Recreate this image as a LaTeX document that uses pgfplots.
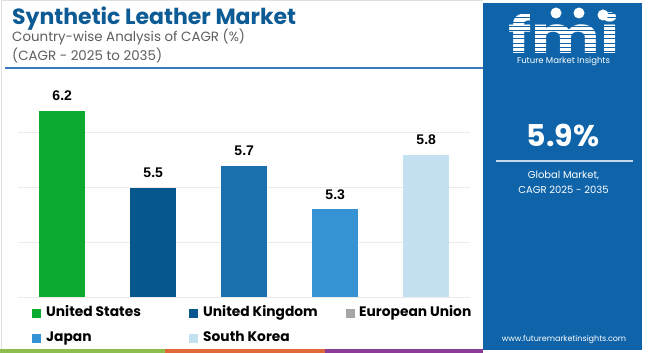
\documentclass[border=0pt]{standalone}
\usepackage{pgfplots}
\pgfplotsset{compat=1.18}
\usepackage{fontspec}
\setmainfont{Poppins}
\newfontfamily\arialf{Liberation Sans}
\definecolor{titleblue}{HTML}{0D5B95}
\definecolor{subgray}{HTML}{5E5E5E}
\definecolor{panel}{HTML}{0F64A9}
\definecolor{cUS}{HTML}{0CAA2E}
\definecolor{cUK}{HTML}{07578F}
\definecolor{cEU}{HTML}{1A70AC}
\definecolor{cJP}{HTML}{3593D3}
\definecolor{cSK}{HTML}{C3E1F1}
\definecolor{cGray}{HTML}{A6A6A6}
\definecolor{gridc}{HTML}{EBEBEB}
\definecolor{lineblue}{HTML}{3A7BBF}
\definecolor{sgreen}{HTML}{8DBF4E}
\definecolor{sorange}{HTML}{E0683A}
\definecolor{spurple}{HTML}{8A3D96}
\begin{document}
\begin{tikzpicture}[x=1pt,y=1pt]
\path[use as bounding box, fill=white] (0,0) rectangle (650,353);
\draw[gray!25, line width=0.8pt] (1,4) -- (1,352.5) -- (483,352.5);
% title
\node[anchor=base west, inner sep=0pt, text=titleblue, font=\bfseries\fontsize{22}{22}\selectfont] at (12,328) {Synthetic Leather Market};
\node[anchor=base west, inner sep=0pt, text=subgray, font=\fontsize{13.4}{13.4}\selectfont] at (12,311) {Country-wise Analysis of CAGR (\%)};
\node[anchor=base west, inner sep=0pt, text=subgray, font=\fontsize{13.4}{13.4}\selectfont] at (12,292) {(CAGR - 2025 to 2035)};
\draw[lineblue, line width=1.5pt] (5,285) -- (483,285);
% axis
\begin{axis}[
  at={(20,51)}, anchor=south west,
  scale only axis, width=452pt, height=219.2pt,
  xmin=-0.4835, xmax=4.4835, ymin=4.5, ymax=6.5,
  ybar, bar width=46pt, bar shift=0pt,
  axis line style={draw=none},
  ytick={4.5,5,5.5,6}, yticklabels={}, xtick=\empty,
  ymajorgrids, grid style={gridc, line width=0.8pt},
  major tick length=0pt,
  /pgf/number format/assume math mode=true,
  nodes near coords,
  every node near coord/.append style={font=\arialf\bfseries\fontsize{14}{14}\selectfont, anchor=base, yshift=10pt, inner sep=0pt, text=black},
]
\addplot[fill=cUS, draw=none, bar shift=0pt] coordinates {(0,6.2)};
\addplot[fill=cUK, draw=none, bar shift=0pt] coordinates {(1,5.5)};
\addplot[fill=cEU, draw=none, bar shift=0pt] coordinates {(2,5.7)};
\addplot[fill=cJP, draw=none, bar shift=0pt] coordinates {(3,5.3)};
\addplot[fill=cSK, draw=none, bar shift=0pt] coordinates {(4,5.8)};
\end{axis}
% legend
\tikzset{lgt/.style={anchor=base west, inner sep=0pt, font=\bfseries\fontsize{13.8}{13.8}\selectfont, text=black}}
\fill[cUS] (32,34.5) rectangle (41,43.5);
\node[lgt] at (46,36) {United States};
\fill[cUK] (189,34.5) rectangle (198,43.5);
\node[lgt] at (203,36) {United Kingdom};
\fill[cGray] (346,34.5) rectangle (355,43.5);
\node[lgt] at (359,36) {European Union};
\fill[cJP] (32,9.5) rectangle (41,18.5);
\node[lgt] at (46,11) {Japan};
\fill[cSK] (189,9.5) rectangle (198,18.5);
\node[lgt] at (203,11) {South Korea};
% bottom stripe
\fill[sgreen] (0,0) rectangle (165,4);
\fill[sorange] (165,0) rectangle (325,4);
\fill[spurple] (325,0) rectangle (483,4);
% right panel
\fill[panel] (483,3) rectangle (642,350);
\node[anchor=base, inner sep=0pt, text=white, font=\bfseries\fontsize{51}{51}\selectfont, xscale=1.27] at (564,299.5) {fmi};
\foreach \k in {0,...,10} {
  \draw[panel, line width=1.1pt] (500,{301.5+4.2*\k}) -- (630,{301.5+4.2*\k});
}
\fill[white] (556,340) circle (5.5);
\fill[white] (579,340) circle (5.5);
\fill[white] (603,338) circle (5.5);
\node[anchor=base, inner sep=0pt, text=white, font=\fontsize{8.5}{8.5}\selectfont] at (563.5,289.5) {Future Market Insights};
\node[anchor=base, inner sep=0pt, text=white, font=\bfseries\fontsize{30}{30}\selectfont] at (563,206) {5.9\%};
\draw[white!75!panel, line width=1.2pt] (496,192) -- (633,192);
\node[anchor=base, inner sep=0pt, text=white, font=\fontsize{10}{10}\selectfont] at (563.5,174) {Global Market,};
\node[anchor=base, inner sep=0pt, text=white, font=\fontsize{10}{10}\selectfont] at (563.5,159) {CAGR 2025 - 2035};
\node[anchor=base, inner sep=0pt, text=white, font=\fontsize{8}{8}\selectfont] at (564,11) {www.futuremarketinsights.com};
\end{tikzpicture}
\end{document}
